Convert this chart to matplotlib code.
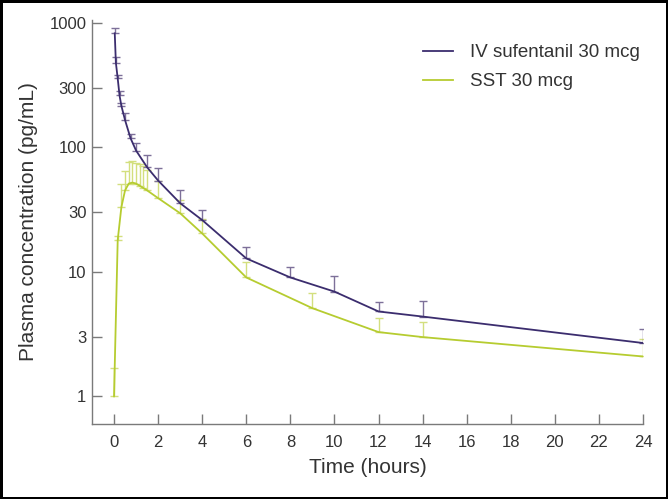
import matplotlib
matplotlib.use("Agg")
import matplotlib.pyplot as plt
from matplotlib.ticker import FixedLocator, NullLocator

plt.rcParams['font.family'] = ['Liberation Sans', 'DejaVu Sans']

# IV sufentanil 30 mcg: mean and upper error bar
iv_time = [0.033, 0.083, 0.167, 0.25, 0.333, 0.5, 0.75, 1, 1.5, 2, 3, 4, 6, 8, 10, 12, 14, 24]
iv_mean = [820, 478, 356, 260, 215, 165, 118, 94, 69, 54, 35.5, 26, 12.8, 9.0, 6.93, 4.8, 4.37, 2.68]
iv_upper = [900, 525, 378, 281, 228, 189, 128, 108, 86, 68, 45, 31.6, 15.9, 11, 9.3, 5.77, 5.87, 3.47]

# SST 30 mcg: mean and upper error bar
sst_time = [0, 0.167, 0.333, 0.5, 0.667, 0.833, 1, 1.167, 1.333, 1.5, 2, 3, 4, 6, 9, 12, 14, 24]
sst_mean = [1.0, 18, 33, 45, 51, 52, 51, 49, 47, 45, 39, 29.5, 20.3, 9.0, 5.1, 3.28, 2.99, 2.09]
sst_upper = [1.69, 19.5, 50.5, 64.5, 76, 77, 75, 73, 71, 65, 54, 37.6, 26.3, 12, 6.7, 4.29, 3.98, 2.88]

y_ticks = [1, 3, 10, 30, 100, 300, 1000]
x_ticks = list(range(0, 25, 2))

iv_color = '#3b2d6e'
iv_err_color = '#7d7099'
sst_color = '#b6cc30'
sst_err_color = '#d3df7e'
axis_color = '#7a7a7a'
text_color = '#333333'

fig = plt.figure(figsize=(6.68, 4.99), dpi=100, linewidth=2.5, edgecolor='black')
ax = fig.add_axes([0.1377, 0.1503, 0.825, 0.8097])

def upper_err(mean, upper):
    return [[0] * len(mean), [u - m for m, u in zip(mean, upper)]]

ax.errorbar(sst_time, sst_mean, yerr=upper_err(sst_mean, sst_upper), fmt='none',
            ecolor=sst_err_color, elinewidth=1, capsize=3, capthick=1)
ax.errorbar(iv_time, iv_mean, yerr=upper_err(iv_mean, iv_upper), fmt='none',
            ecolor=iv_err_color, elinewidth=1, capsize=3, capthick=1)
ax.plot(iv_time, iv_mean, color=iv_color, lw=1.3, label='IV sufentanil 30 mcg')
ax.plot(sst_time, sst_mean, color=sst_color, lw=1.3, label='SST 30 mcg')

ax.set_yscale('log')
ax.set_ylim(0.6, 1050)
ax.set_xlim(-1, 24)
ax.yaxis.set_major_locator(FixedLocator(y_ticks))
ax.yaxis.set_minor_locator(NullLocator())
ax.set_yticklabels([str(v) for v in y_ticks])
ax.set_xticks(x_ticks)

for side in ['top', 'right']:
    ax.spines[side].set_visible(False)
for side in ['left', 'bottom']:
    ax.spines[side].set_color(axis_color)
    ax.spines[side].set_linewidth(1)

ax.tick_params(direction='in', length=7.5, width=1, color=axis_color,
               labelsize=12, labelcolor=text_color, pad=4)
ax.tick_params(axis='x', pad=8)

ax.set_xlabel('Time (hours)', fontsize=15, color=text_color, labelpad=6)
ax.set_ylabel('Plasma concentration (pg/mL)', fontsize=15, color=text_color, labelpad=8)

ax.legend(loc='upper left', bbox_to_anchor=(0.60, 0.94), frameon=False, fontsize=13.5,
          borderpad=0, borderaxespad=0, handlelength=1.6, handletextpad=0.95,
          labelspacing=0.62, labelcolor=text_color)

fig.savefig('out.png', dpi=100, edgecolor=fig.get_edgecolor())
